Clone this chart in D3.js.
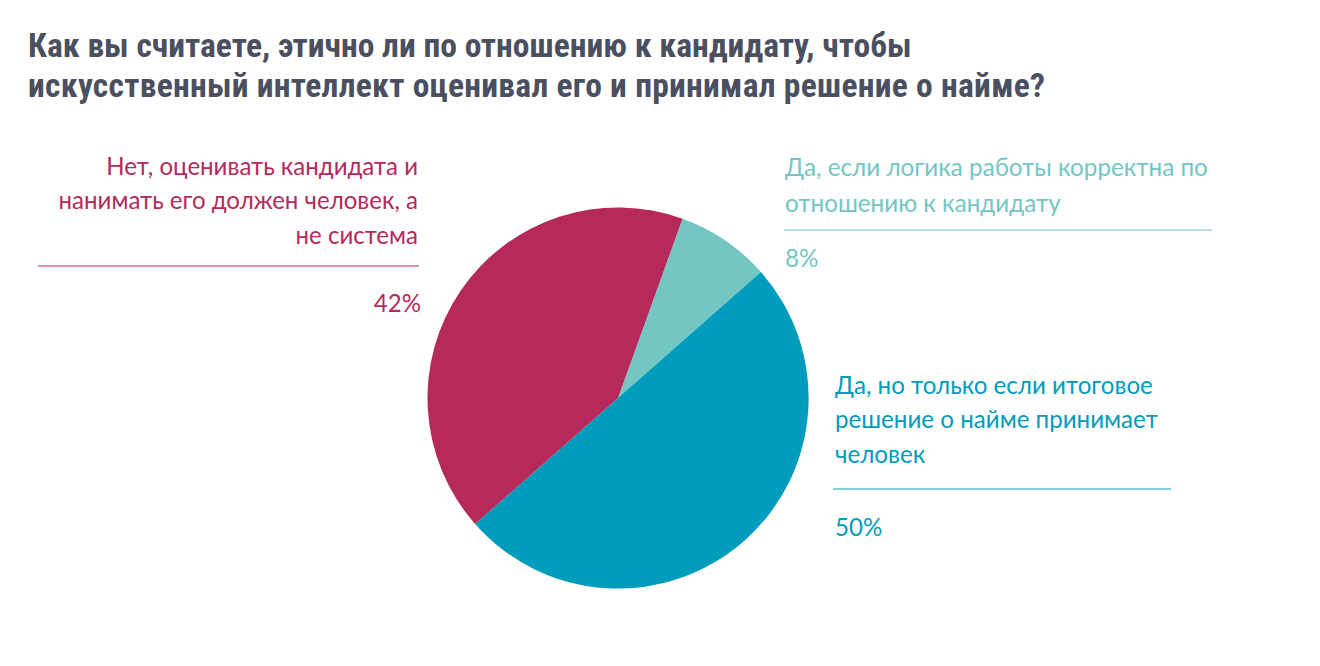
<!DOCTYPE html>
<html>
<head>
<meta charset="utf-8">
<script src="https://cdn.jsdelivr.net/npm/d3@7/dist/d3.min.js"></script>
<style>
  html, body { margin: 0; padding: 0; background: #ffffff; }
  svg { display: block; }
</style>
</head>
<body>
<svg id="chart" width="1320" height="666"></svg>
<script>
// ---- data ----
const titleLines = [
  "Как вы считаете, этично ли по отношению к кандидату, чтобы",
  "искусственный интеллект оценивал его и принимал решение о найме?"
];
const categories = [
  "Да, если логика работы корректна по отношению к кандидату",
  "Да, но только если итоговое решение о найме принимает человек",
  "Нет, оценивать кандидата и нанимать его должен человек, а не система"
];
const values = [8, 50, 42];
const valueLabels = ["8%", "50%", "42%"];
const labelLines = [
  ["Да, если логика работы корректна по", "отношению к кандидату"],
  ["Да, но только если итоговое", "решение о найме принимает", "человек"],
  ["Нет, оценивать кандидата и", "нанимать его должен человек, а", "не система"]
];
const colors = ["#74c6c2", "#009cbb", "#b52a5b"];

// ---- layout ----
const svg = d3.select("#chart");
const cx = 618, cy = 398, r = 190.5;
const startDeg = 19.8;

// title
const titleG = svg.append("g");
const titleFont = "'Liberation Sans Narrow', 'Roboto Condensed', 'DejaVu Sans Condensed', sans-serif";
const titleY = [57, 97];
const titleTargetW = [884, 1017];
const titleTexts = titleLines.map((t, i) =>
  titleG.append("text")
    .attr("x", 28).attr("y", titleY[i])
    .attr("font-family", titleFont)
    .attr("font-weight", "bold")
    .attr("font-size", 32)
    .attr("fill", "#4a5060")
    .text(t));
(function(){
  const w = titleTexts[0].node().getComputedTextLength();
  const fs = 32 * titleTargetW[0] / w;
  titleTexts.forEach(t => t.attr("font-size", fs));
  const w2 = titleTexts[1].node().getComputedTextLength();
  if (Math.abs(w2 - titleTargetW[1]) > 4) {
    titleTexts[1].attr("textLength", titleTargetW[1]).attr("lengthAdjust", "spacing");
  }
})();

// pie
const pie = d3.pie().sort(null).value(d => d)
  .startAngle(startDeg * Math.PI / 180)
  .endAngle(startDeg * Math.PI / 180 + 2 * Math.PI);
const arc = d3.arc().innerRadius(0).outerRadius(r);
svg.append("g").attr("transform", `translate(${cx},${cy})`)
  .selectAll("path")
  .data(pie(values))
  .join("path")
  .attr("d", arc)
  .attr("fill", (d, i) => colors[i]);

// labels
const labelFont = "Lato, 'Open Sans', sans-serif";
const blocks = [
  { anchor: "start", x: 785, y0: 176, lh: 35.5, ruleY: 230, rx1: 784, rx2: 1212, pctY: 267, targetW: 423 },
  { anchor: "start", x: 835, y0: 394, lh: 34.3, ruleY: 489, rx1: 833, rx2: 1171, pctY: 536, targetW: 318 },
  { anchor: "end",   x: 418, y0: 175, lh: 34.3, ruleY: 266, rx1: 38,  rx2: 419,  pctY: 312, targetW: 312 }
];
blocks.forEach((b, i) => {
  const g = svg.append("g");
  const texts = labelLines[i].map((line, j) =>
    g.append("text")
      .attr("x", b.x).attr("y", b.y0 + j * b.lh)
      .attr("text-anchor", b.anchor)
      .attr("font-family", labelFont)
      .attr("font-size", 24)
      .attr("fill", colors[i])
      .text(line));
  const w = texts[0].node().getComputedTextLength();
  const fs = 24 * b.targetW / w;
  texts.forEach(t => t.attr("font-size", fs));
  g.append("line")
    .attr("x1", b.rx1).attr("x2", b.rx2)
    .attr("y1", b.ruleY).attr("y2", b.ruleY)
    .attr("stroke", colors[i]).attr("stroke-width", 1);
  g.append("text")
    .attr("x", b.anchor === "end" ? 421 : b.x).attr("y", b.pctY)
    .attr("text-anchor", b.anchor)
    .attr("font-family", labelFont)
    .attr("font-size", fs)
    .attr("fill", colors[i])
    .text(valueLabels[i]);
});
</script>
</body>
</html>
